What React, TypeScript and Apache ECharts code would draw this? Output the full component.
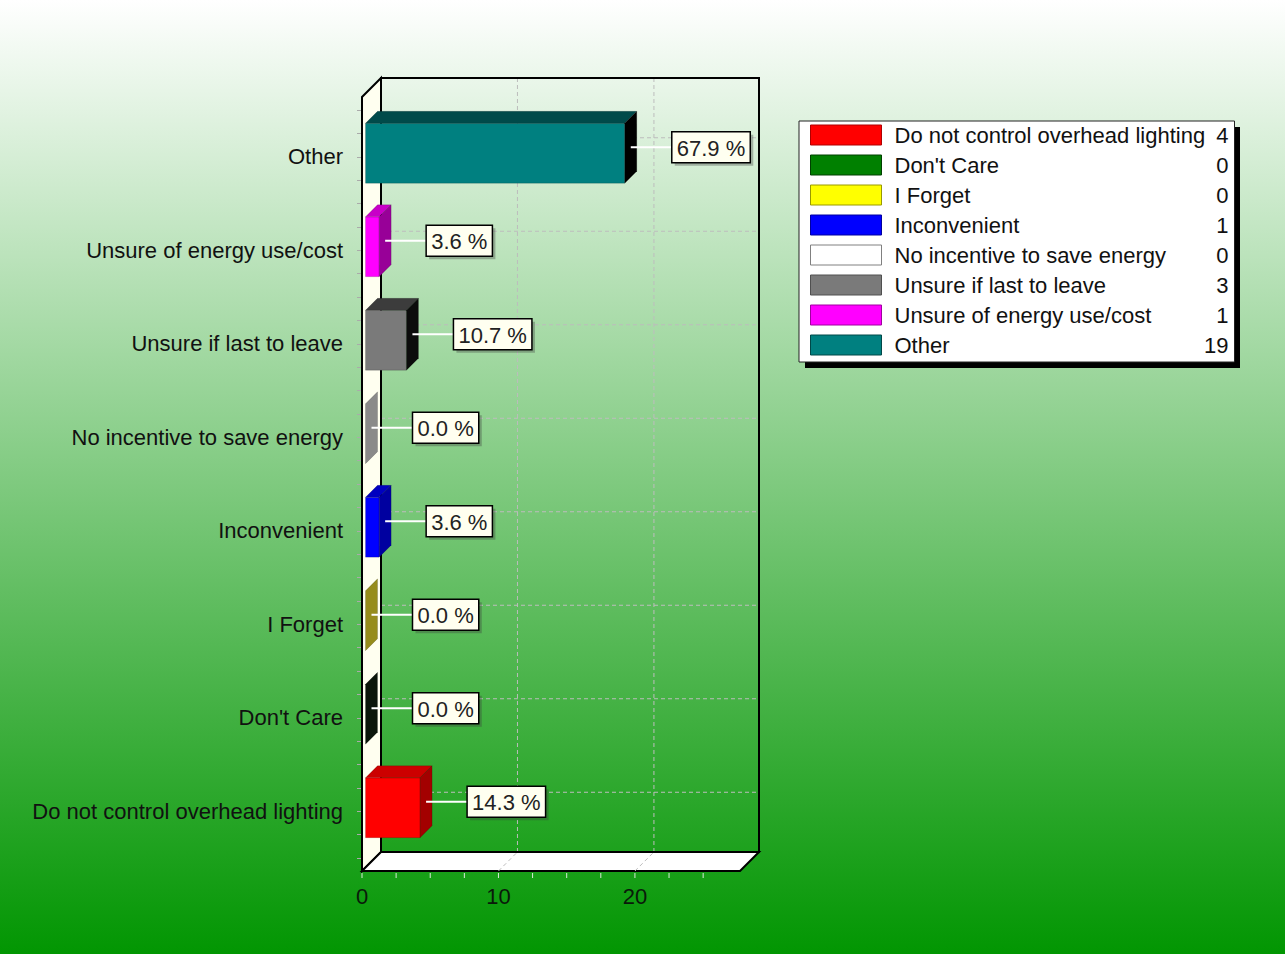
import React, { useEffect, useRef } from "react";
import * as echarts from "echarts";

const CATEGORIES = [
  "Do not control overhead lighting",
  "Don't Care",
  "I Forget",
  "Inconvenient",
  "No incentive to save energy",
  "Unsure if last to leave",
  "Unsure of energy use/cost",
  "Other",
];
const VALUES = [4, 0, 0, 1, 0, 3, 1, 19];
const X_TICKS = [0, 10, 20];
const X_MINOR_TICKS = [0, 2.5, 5, 7.5, 10, 12.5, 15, 17.5, 20, 22.5, 25];
const X_MAX = 27.7;

const FRONT = ["#ff0000", "#008000", "#ffff00", "#0000ff", "#ffffff", "#7a7a7a", "#ff00ff", "#008080"];
const TOP = ["#cc0000", "#004d00", "#c8c800", "#0000c0", "#c8c8c8", "#3c3c3c", "#c800c8", "#004a4a"];
const SIDE = ["#a30000", "#0b160b", "#968c1c", "#0000a0", "#8a8a8a", "#0c0c0c", "#980098", "#000000"];
const SWATCH_BORDER = ["#b00000", "#004000", "#9a9a00", "#0000a0", "#808080", "#505050", "#a000a0", "#004848"];

const FONT_FAMILY = '"Liberation Sans", Arial, Helvetica, sans-serif';
const FONT_SIZE = 22;
const FONT = `${FONT_SIZE}px ${FONT_FAMILY}`;
const DEPTH = 19;
const BAR_DEPTH = 12;
const PAD = 13;

let measureCtx: CanvasRenderingContext2D | null = null;
function textWidth(t: string): number {
  if (!measureCtx) measureCtx = document.createElement("canvas").getContext("2d");
  if (!measureCtx) return t.length * 11;
  measureCtx.font = FONT;
  return measureCtx.measureText(t).width;
}

const TOTAL = VALUES.reduce((a, b) => a + b, 0);

function dashLine(x1: number, y1: number, x2: number, y2: number) {
  return {
    type: "line",
    shape: { x1, y1, x2, y2 },
    style: { stroke: "#bdbdbd", lineWidth: 1, lineDash: [4, 3] },
  };
}

export default function App() {
  const ref = useRef<HTMLDivElement>(null);

  useEffect(() => {
    if (!ref.current) return;
    const chart = echarts.init(ref.current, undefined, { renderer: "svg" });

    const frameSeries: any = {
      type: "custom",
      name: "__frame",
      coordinateSystem: "cartesian2d",
      clip: false,
      silent: true,
      z: 1,
      data: [[0, 0]],
      encode: { x: 0, y: 1 },
      renderItem: (params: any, api: any) => {
        const cs = params.coordSys;
        const x0 = cs.x;
        const x1 = cs.x + cs.width;
        const y0 = cs.y - PAD;
        const y1 = cs.y + cs.height + PAD;
        const D = DEPTH;
        const children: any[] = [];
        children.push({
          type: "polygon",
          shape: { points: [[x0, y0], [x0 + D, y0 - D], [x0 + D, y1 - D], [x0, y1]] },
          style: { fill: "#fffff0", stroke: "#000", lineWidth: 2 },
        });
        children.push({
          type: "polygon",
          shape: { points: [[x0, y1], [x0 + D, y1 - D], [x1 + D, y1 - D], [x1, y1]] },
          style: { fill: "#ffffff", stroke: "#000", lineWidth: 2 },
        });
        X_TICKS.filter((v) => v > 0).forEach((v) => {
          const x = api.coord([v, 0])[0];
          children.push(dashLine(x + D, y0 - D, x + D, y1 - D));
          children.push(dashLine(x, y1, x + D, y1 - D));
        });
        CATEGORIES.forEach((_, i) => {
          const y = api.coord([0, i])[1];
          children.push(dashLine(x0 + D, y - D, x1 + D, y - D));
        });
        children.push({
          type: "rect",
          shape: { x: x0 + D, y: y0 - D, width: x1 - x0, height: y1 - y0 },
          style: { fill: "none", stroke: "#000", lineWidth: 2 },
        });
        X_MINOR_TICKS.forEach((v) => {
          const x = api.coord([v, 0])[0];
          children.push({
            type: "line",
            shape: { x1: x, y1: y1 + 2, x2: x, y2: y1 + 7 },
            style: { stroke: "#d8ecd8", lineWidth: 1 },
          });
        });
        return { type: "group", children };
      },
    };

    const barSeries = CATEGORIES.map((name, i) => ({
      type: "custom",
      name,
      coordinateSystem: "cartesian2d",
      clip: false,
      z: 3,
      itemStyle: { color: FRONT[i] },
      data: [[VALUES[i], i]],
      encode: { x: 0, y: 1 },
      renderItem: (params: any, api: any) => {
        const v = api.value(0);
        const idx = api.value(1);
        const base = api.coord([0, idx]);
        const end = api.coord([v, idx]);
        const band = api.size([0, 1])[1];
        const h = band * 0.64;
        const d = BAR_DEPTH;
        const s = (DEPTH - BAR_DEPTH) / 2;
        const fx0 = base[0] + s;
        const fx1 = end[0] + s;
        const fyc = base[1] - s;
        const fy0 = fyc - h / 2;
        const fy1 = fyc + h / 2;
        const children: any[] = [];
        if (fx1 - fx0 > 0.5) {
          children.push({
            type: "rect",
            shape: { x: fx0, y: fy0, width: fx1 - fx0, height: h },
            style: { fill: FRONT[i], stroke: "rgba(0,0,0,0.25)", lineWidth: 0.6 },
          });
          children.push({
            type: "polygon",
            shape: { points: [[fx0, fy0], [fx1, fy0], [fx1 + d, fy0 - d], [fx0 + d, fy0 - d]] },
            style: { fill: TOP[i], stroke: "rgba(0,0,0,0.25)", lineWidth: 0.6 },
          });
        }
        children.push({
          type: "polygon",
          shape: { points: [[fx1, fy0], [fx1 + d, fy0 - d], [fx1 + d, fy1 - d], [fx1, fy1]] },
          style: { fill: SIDE[i], stroke: "rgba(0,0,0,0.25)", lineWidth: 0.6 },
        });
        const label = ((v / TOTAL) * 100).toFixed(1) + " %";
        const lx0 = fx1 + d / 2;
        const ly = fyc - d / 2;
        const lx1 = lx0 + 41;
        const w = textWidth(label) + 10;
        const bh = 31;
        children.push({
          type: "line",
          shape: { x1: lx0, y1: ly, x2: lx1, y2: ly },
          style: { stroke: "#ffffff", lineWidth: 2 },
        });
        children.push({
          type: "rect",
          shape: { x: lx1 + 3, y: ly - bh / 2 + 3, width: w, height: bh },
          style: { fill: "rgba(60,60,60,0.35)" },
        });
        children.push({
          type: "rect",
          shape: { x: lx1, y: ly - bh / 2, width: w, height: bh },
          style: { fill: "#fffff0", stroke: "#000", lineWidth: 1.5 },
        });
        children.push({
          type: "text",
          x: lx1 + w / 2,
          y: ly + 1,
          style: {
            text: label,
            fill: "#222",
            font: FONT,
            align: "center",
            verticalAlign: "middle",
          },
        });
        return { type: "group", children };
      },
    }));

    const option: any = {
      animation: false,
      backgroundColor: {
        type: "linear",
        x: 0,
        y: 0,
        x2: 0,
        y2: 1,
        colorStops: [
          { offset: 0, color: "#ffffff" },
          { offset: 1, color: "#029602" },
        ],
      },
      grid: { left: 362, right: 545, top: 110, bottom: 96 },
      xAxis: {
        type: "value",
        min: 0,
        max: X_MAX,
        interval: 10,
        offset: PAD,
        axisLine: { show: false },
        axisTick: { show: false },
        minorTick: { show: false },
        splitLine: { show: false },
        minorSplitLine: { show: false },
        axisLabel: {
          margin: 14,
          fontSize: FONT_SIZE,
          fontFamily: FONT_FAMILY,
          color: "#0a1a0a",
          showMaxLabel: false,
          formatter: (v: number) => (X_TICKS.indexOf(v) >= 0 ? String(v) : ""),
        },
      },
      yAxis: [
        {
          type: "category",
          data: CATEGORIES,
          position: "left",
          axisLine: { show: false },
          axisTick: { show: false },
          splitLine: { show: false },
          axisLabel: {
            margin: 19,
            fontSize: FONT_SIZE,
            fontFamily: FONT_FAMILY,
            color: "#111",
          },
        },
        {
          type: "value",
          min: -0.5,
          max: 7.5,
          interval: 0.25,
          position: "left",
          axisLine: { show: false },
          axisTick: { show: true, length: 5, lineStyle: { color: "#aaaaaa" } },
          axisLabel: { show: false },
          splitLine: { show: false },
        },
      ],
      legend: {
        orient: "vertical",
        left: 799,
        top: 121,
        padding: [3, 6, 6, 11],
        itemWidth: 71,
        itemHeight: 20,
        itemGap: 8,
        icon: "rect",
        selectedMode: false,
        backgroundColor: "#ffffff",
        borderColor: "#222",
        borderWidth: 1,
        z: 5,
        data: CATEGORIES.map((name, i) => ({
          name,
          itemStyle: { color: FRONT[i], borderColor: SWATCH_BORDER[i], borderWidth: 1 },
        })),
        formatter: (name: string) => {
          const i = CATEGORIES.indexOf(name);
          return `{n|${name}}{v|${VALUES[i]}}`;
        },
        textStyle: {
          color: "#111",
          fontSize: FONT_SIZE,
          fontFamily: FONT_FAMILY,
          lineHeight: 20,
          rich: {
            n: { width: 318, padding: [0, 0, 0, 8], fontSize: FONT_SIZE, fontFamily: FONT_FAMILY, lineHeight: 20, color: "#111" },
            v: { width: 16, align: "right", fontSize: FONT_SIZE, fontFamily: FONT_FAMILY, lineHeight: 20, color: "#111" },
          },
        },
      },
      graphic: [
        {
          type: "rect",
          z: 1,
          shape: { x: 805, y: 127, width: 435, height: 241 },
          style: { fill: "#000" },
        },
      ],
      series: [frameSeries, ...barSeries],
    };

    chart.setOption(option);
    return () => chart.dispose();
  }, []);

  return (
    <div
      ref={ref}
      style={{ position: "absolute", left: 0, top: 0, width: 1285, height: 954 }}
    />
  );
}
